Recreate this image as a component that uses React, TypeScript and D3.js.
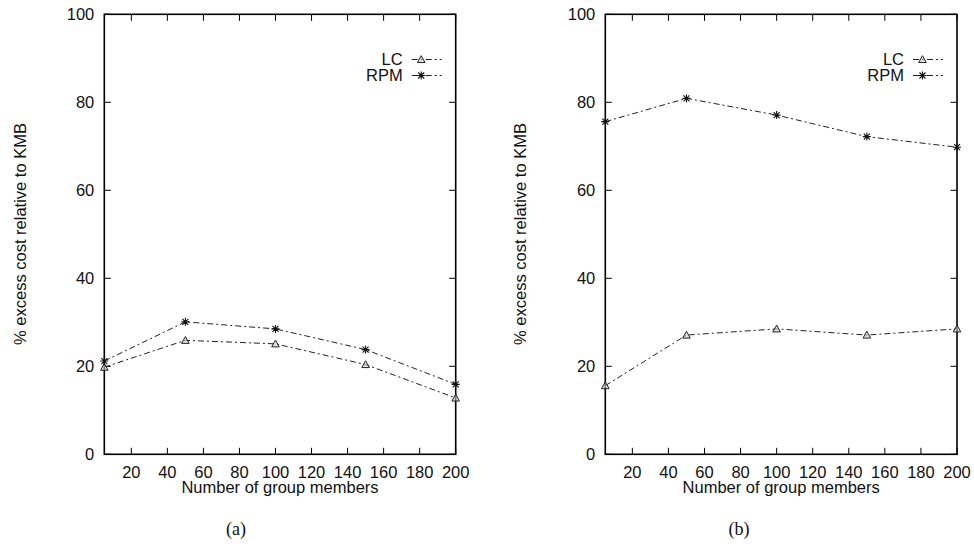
import React from "react";
import * as d3 from "d3";

const members = [5, 50, 100, 150, 200];
const lcA = [19.8, 25.9, 25.1, 20.4, 12.8];
const rpmA = [21.2, 30.1, 28.5, 23.8, 15.9];
const lcB = [15.6, 27.1, 28.5, 27.1, 28.5];
const rpmB = [75.6, 80.9, 77.1, 72.2, 69.8];
const xTicks = [20, 40, 60, 80, 100, 120, 140, 160, 180, 200];
const yTicks = [0, 20, 40, 60, 80, 100];
const seriesNames = ["LC", "RPM"];

const W = 974;
const H = 546;
const FONT = "'Liberation Sans', Arial, sans-serif";
const FS = 16.5;
const DASH = "6,3,2,3";

function Triangle({ x, y }: { x: number; y: number }) {
  const s = 3.8;
  return (
    <path
      d={`M${x},${y - s}L${x + s},${y + s * 0.8}L${x - s},${y + s * 0.8}Z`}
      fill="#ccc"
      fillOpacity={0.6}
      stroke="#222"
      strokeWidth={1}
    />
  );
}

function Star({ x, y }: { x: number; y: number }) {
  const s = 4;
  const d = 3;
  return (
    <path
      d={`M${x - s},${y}H${x + s}M${x},${y - s}V${y + s}M${x - d},${y - d}L${x + d},${y + d}M${x - d},${y + d}L${x + d},${y - d}`}
      stroke="#111"
      strokeWidth={1.1}
      fill="none"
    />
  );
}

function Panel({
  left,
  right,
  lc,
  rpm,
  caption,
  captionX,
  titleX,
}: {
  left: number;
  right: number;
  lc: number[];
  rpm: number[];
  caption: string;
  captionX: number;
  titleX: number;
}) {
  const top = 14.3;
  const bottom = 454.3;
  const x = d3.scaleLinear().domain([5, 200]).range([left, right]);
  const y = d3.scaleLinear().domain([0, 100]).range([bottom, top]);
  const line = d3
    .line<number>()
    .x((_, i) => x(members[i]))
    .y((v) => y(v));
  const tl = 6.5;
  const legendTextX = right - 53;
  const sampleX0 = right - 44;
  const sampleX1 = right - 14;
  const markerX = right - 34.5;
  const legY = [59.5, 75.5];
  return (
    <g>
      {yTicks.map((t) => (
        <g key={"y" + t}>
          <line x1={left} x2={left + tl} y1={y(t)} y2={y(t)} stroke="#000" />
          <line x1={right} x2={right - tl} y1={y(t)} y2={y(t)} stroke="#000" />
          <text
            x={left - 10}
            y={y(t)}
            dy="0.36em"
            textAnchor="end"
            fontFamily={FONT}
            fontSize={FS}
            fill="#111"
          >
            {t}
          </text>
        </g>
      ))}
      {xTicks.map((t) => (
        <g key={"x" + t}>
          <line x1={x(t)} x2={x(t)} y1={bottom} y2={bottom - tl} stroke="#000" />
          <line x1={x(t)} x2={x(t)} y1={top} y2={top + tl} stroke="#000" />
          <text
            x={x(t)}
            y={477.5}
            textAnchor="middle"
            fontFamily={FONT}
            fontSize={FS}
            fill="#111"
          >
            {t}
          </text>
        </g>
      ))}
      <rect
        x={left}
        y={top}
        width={right - left}
        height={bottom - top}
        fill="none"
        stroke="#000"
        strokeWidth={1.6}
      />
      <text
        x={(left + right) / 2}
        y={492.5}
        textAnchor="middle"
        fontFamily={FONT}
        fontSize={FS}
        fill="#111"
      >
        Number of group members
      </text>
      <text
        transform={`translate(${titleX},${234}) rotate(-90)`}
        textAnchor="middle"
        dy="0.36em"
        fontFamily={FONT}
        fontSize={FS}
        fill="#111"
      >
        % excess cost relative to KMB
      </text>
      <path d={line(lc) || ""} fill="none" stroke="#222" strokeWidth={1} strokeDasharray={DASH} />
      <path d={line(rpm) || ""} fill="none" stroke="#222" strokeWidth={1} strokeDasharray={DASH} />
      {lc.map((v, i) => (
        <Triangle key={"t" + i} x={x(members[i])} y={y(v)} />
      ))}
      {rpm.map((v, i) => (
        <Star key={"s" + i} x={x(members[i])} y={y(v)} />
      ))}
      {seriesNames.map((n, i) => (
        <g key={n}>
          <text
            x={legendTextX}
            y={legY[i]}
            dy="0.36em"
            textAnchor="end"
            fontFamily={FONT}
            fontSize={FS}
            fill="#111"
          >
            {n}
          </text>
          <line
            x1={sampleX0}
            x2={sampleX1}
            y1={legY[i]}
            y2={legY[i]}
            stroke="#222"
            strokeDasharray={DASH}
          />
          {i === 0 ? (
            <Triangle x={markerX} y={legY[i]} />
          ) : (
            <Star x={markerX} y={legY[i]} />
          )}
        </g>
      ))}
      <text
        x={captionX}
        y={535}
        textAnchor="middle"
        fontFamily="'Liberation Serif', 'Times New Roman', serif"
        fontSize={18}
        fill="#111"
      >
        {caption}
      </text>
    </g>
  );
}

export default function App() {
  return (
    <svg
      width={W}
      height={H}
      style={{ position: "absolute", left: 0, top: 0, background: "#fff" }}
    >
      <rect width={W} height={H} fill="#fff" />
      <Panel left={104.3} right={455.7} lc={lcA} rpm={rpmA} caption="(a)" captionX={236} titleX={20} />
      <Panel left={605.3} right={957} lc={lcB} rpm={rpmB} caption="(b)" captionX={739} titleX={520} />
    </svg>
  );
}
